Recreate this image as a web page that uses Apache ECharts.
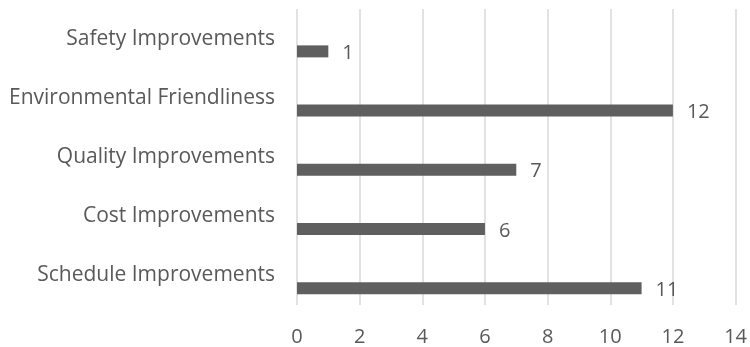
<!DOCTYPE html>
<html>
<head>
<meta charset="utf-8">
<script src="https://cdn.jsdelivr.net/npm/echarts@6/dist/echarts.min.js"></script>
<style>
  html, body { margin: 0; padding: 0; background: #fff; }
  #chart { width: 750px; height: 347px; }
</style>
</head>
<body>
<div id="chart"></div>
<script>
  // categories listed bottom to top
  const categories = ['Schedule Improvements', 'Cost Improvements', 'Quality Improvements', 'Environmental Friendliness', 'Safety Improvements']
  const counts = [11, 6, 7, 12, 1]
  const xTicks = [0, 2, 4, 6, 8, 10, 12, 14]

  const textColor = '#595959'
  const fontFamily = '"Open Sans", Lato, sans-serif'

  const chart = echarts.init(document.getElementById('chart'))
  chart.setOption({
    animation: false,
    grid: { left: 297, right: 12, top: 9, bottom: 42 },
    xAxis: {
      type: 'value',
      min: xTicks[0],
      max: xTicks[xTicks.length - 1],
      interval: 2,
      axisLine: { show: false },
      axisTick: { show: false },
      splitLine: { lineStyle: { color: '#d9d9d9', width: 1.5 } },
      axisLabel: { color: textColor, fontFamily: fontFamily, fontSize: 20, margin: 22 }
    },
    yAxis: {
      type: 'category',
      data: categories,
      axisLine: { show: false },
      axisTick: { show: false },
      axisLabel: { color: textColor, fontFamily: fontFamily, fontSize: 21, margin: 22 }
    },
    series: [
      {
        // empty placeholder series, keeps the real bars below the band centre
        type: 'bar',
        data: counts.map(() => null),
        barWidth: 12,
        barGap: '113%'
      },
      {
        type: 'bar',
        data: counts,
        barWidth: 12,
        barGap: '113%',
        itemStyle: { color: '#5f5f5f' },
        label: {
          show: true,
          position: 'right',
          distance: 14,
          offset: [0, 2],
          color: textColor,
          fontFamily: fontFamily,
          fontSize: 20
        }
      }
    ]
  })
</script>
</body>
</html>
